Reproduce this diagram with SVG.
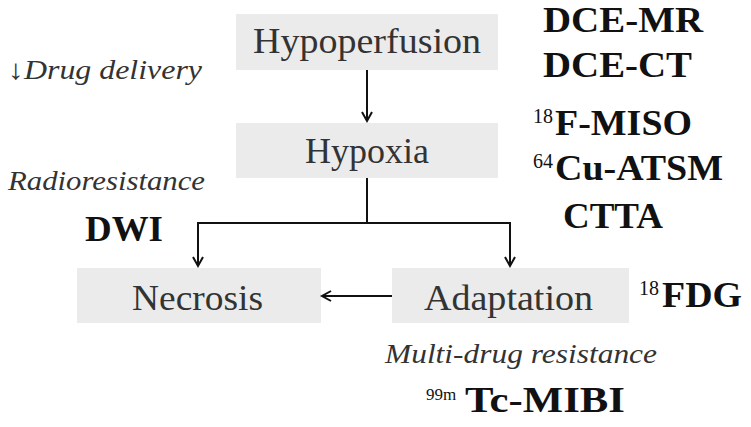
<svg xmlns="http://www.w3.org/2000/svg" width="751" height="427" viewBox="0 0 751 427">
<defs>
<style>
text{font-family:"Liberation Serif","Times New Roman",serif}
.box{fill:#ebebeb}
.node{font-size:35px;fill:#333}
.it{font-style:italic;font-size:28px;fill:#333}
.bd{font-weight:bold;font-size:36px;fill:#111}
.sup{font-size:20px;font-weight:normal}
.conn{fill:none;stroke:#111;stroke-width:2}
</style>
<marker id="ah" markerUnits="userSpaceOnUse" markerWidth="14" markerHeight="14" refX="10" refY="6" orient="auto">
<path d="M1,1 L10,6 L1,11" fill="none" stroke="#111" stroke-width="2"/>
</marker>
</defs>
<rect width="751" height="427" fill="#fff"/>
<g id="hypoperfusion">
<rect class="box" x="236" y="14" width="262" height="56"/>
<text class="node" x="253" y="53" textLength="228" lengthAdjust="spacingAndGlyphs">Hypoperfusion</text>
</g>
<g id="hypoxia">
<rect class="box" x="236" y="123" width="262" height="55"/>
<text class="node" x="305" y="163" textLength="124" lengthAdjust="spacingAndGlyphs">Hypoxia</text>
</g>
<g id="necrosis">
<rect class="box" x="77" y="268" width="244" height="55"/>
<text class="node" x="132" y="310" textLength="131" lengthAdjust="spacingAndGlyphs">Necrosis</text>
</g>
<g id="adaptation">
<rect class="box" x="392" y="268" width="237" height="55"/>
<text class="node" x="424" y="310" textLength="169" lengthAdjust="spacingAndGlyphs">Adaptation</text>
</g>
<g id="connectors">
<path class="conn" d="M367,70 V121" marker-end="url(#ah)"/>
<path class="conn" d="M367,178 V223 H198 V266" marker-end="url(#ah)"/>
<path class="conn" d="M367,223 H510 V266" marker-end="url(#ah)"/>
<path class="conn" d="M392,296 H322" marker-end="url(#ah)"/>
</g>
<g id="labels">
<text class="it" x="8" y="79" textLength="194" lengthAdjust="spacingAndGlyphs">↓Drug delivery</text>
<text class="it" x="8" y="190" textLength="197" lengthAdjust="spacingAndGlyphs">Radioresistance</text>
<text class="it" x="385" y="363" textLength="272" lengthAdjust="spacingAndGlyphs">Multi-drug resistance</text>
<text class="bd" x="543" y="32" textLength="160" lengthAdjust="spacingAndGlyphs">DCE-MR</text>
<text class="bd" x="543" y="77" textLength="149" lengthAdjust="spacingAndGlyphs">DCE-CT</text>
<text class="bd" y="135"><tspan class="sup" x="533" dy="-12" textLength="20" lengthAdjust="spacingAndGlyphs">18</tspan><tspan x="555" dy="12" textLength="137" lengthAdjust="spacingAndGlyphs">F-MISO</tspan></text>
<text class="bd" y="180"><tspan class="sup" x="533" dy="-12" textLength="20" lengthAdjust="spacingAndGlyphs">64</tspan><tspan x="555" dy="12" textLength="168" lengthAdjust="spacingAndGlyphs">Cu-ATSM</tspan></text>
<text class="bd" x="563" y="228" textLength="100" lengthAdjust="spacingAndGlyphs">CTTA</text>
<text class="bd" x="85" y="241" textLength="78" lengthAdjust="spacingAndGlyphs">DWI</text>
<text class="bd" y="307"><tspan class="sup" x="639" dy="-12" textLength="20" lengthAdjust="spacingAndGlyphs">18</tspan><tspan x="662" dy="12" textLength="80" lengthAdjust="spacingAndGlyphs">FDG</tspan></text>
<text class="bd" y="412"><tspan x="426" dy="-12" font-size="17" font-weight="normal">99m</tspan><tspan x="465" dy="12" textLength="160" lengthAdjust="spacingAndGlyphs">Tc-MIBI</tspan></text>
</g>
</svg>
